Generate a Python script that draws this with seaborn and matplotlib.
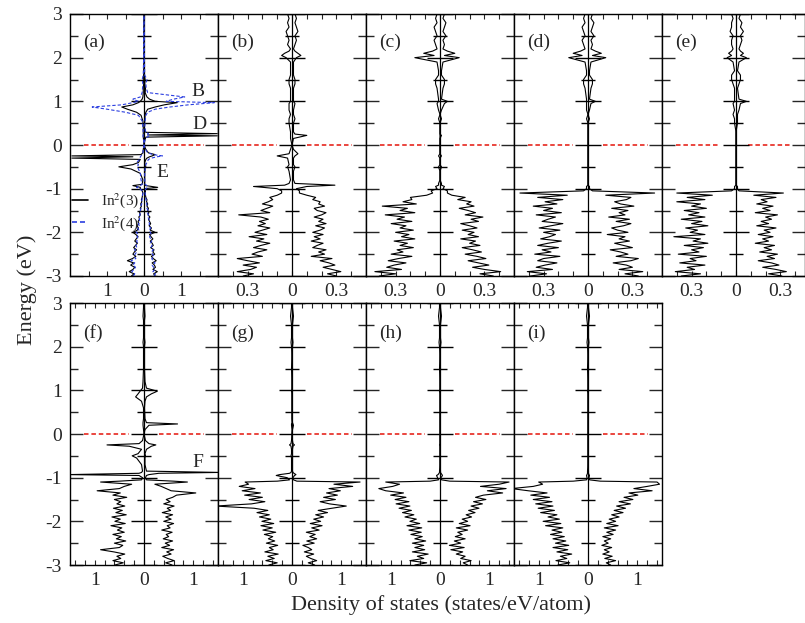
import numpy as np
import matplotlib
matplotlib.use('Agg')
import matplotlib.pyplot as plt
from matplotlib.lines import Line2D
import seaborn as sns

sns.set_theme(style='ticks')
plt.rcParams['font.family'] = ['Liberation Serif', 'DejaVu Serif']
plt.rcParams['mathtext.fontset'] = 'stix'
plt.rcParams['axes.unicode_minus'] = False

# Energy sampling of the valence band part (eV)
vb_energy = np.linspace(-3.0, -1.1, 39)

# Valence band DOS (spin up / spin down magnitudes), one value per vb_energy
a_up3 = [0.30,0.26,0.36,0.24,0.31,0.28,0.22,0.33,0.25,0.20,0.29,0.24,0.27,0.18,0.25,0.22,0.17,0.24,0.19,0.15,
         0.30,0.17,0.20,0.14,0.18,0.15,0.12,0.16,0.11,0.13,0.10,0.12,0.08,0.10,0.07,0.08,0.05,0.04,0.03]
a_dn3 = [0.34,0.27,0.40,0.30,0.25,0.36,0.28,0.45,0.31,0.22,0.30,0.26,0.20,0.28,0.23,0.18,0.25,0.21,0.16,0.22,
         0.30,0.18,0.15,0.19,0.14,0.16,0.12,0.14,0.10,0.12,0.09,0.10,0.07,0.09,0.06,0.07,0.05,0.04,0.03]
a_up4 = [0.27,0.31,0.24,0.29,0.26,0.22,0.30,0.24,0.21,0.27,0.23,0.20,0.25,0.19,0.22,0.17,0.21,0.18,0.15,0.20,
         0.17,0.14,0.18,0.13,0.15,0.12,0.14,0.10,0.12,0.09,0.11,0.08,0.09,0.07,0.08,0.05,0.05,0.04,0.03]
a_dn4 = [0.29,0.25,0.33,0.27,0.23,0.30,0.25,0.35,0.22,0.27,0.24,0.20,0.26,0.19,0.22,0.17,0.20,0.16,0.19,0.15,
         0.21,0.14,0.17,0.13,0.15,0.11,0.13,0.10,0.12,0.09,0.10,0.08,0.09,0.06,0.07,0.05,0.05,0.04,0.03]
b_up = [0.30,0.24,0.33,0.27,0.21,0.29,0.25,0.19,0.27,0.13,0.22,0.18,0.23,0.14,0.17,0.21,0.13,0.19,0.15,0.21,
        0.14,0.19,0.22,0.16,0.23,0.18,0.21,0.15,0.20,0.23,0.17,0.15,0.22,0.18,0.19,0.14,0.16,0.10,0.05]
b_dn = [0.33,0.26,0.37,0.28,0.24,0.33,0.22,0.30,0.37,0.20,0.27,0.23,0.17,0.26,0.21,0.15,0.24,0.19,0.29,0.17,
        0.25,0.20,0.15,0.23,0.18,0.22,0.16,0.21,0.36,0.15,0.21,0.17,0.13,0.20,0.16,0.13,0.15,0.10,0.07]
c_up = [0.36,0.27,0.41,0.30,0.22,0.33,0.26,0.19,0.31,0.25,0.17,0.28,0.22,0.15,0.27,0.20,0.24,0.14,0.26,0.19,
        0.23,0.15,0.25,0.20,0.14,0.26,0.21,0.29,0.17,0.24,0.19,0.13,0.23,0.18,0.21,0.12,0.17,0.08,0.05]
c_dn = [0.41,0.30,0.44,0.26,0.36,0.31,0.23,0.35,0.28,0.19,0.33,0.25,0.29,0.18,0.27,0.22,0.31,0.17,0.26,0.21,
        0.30,0.18,0.27,0.23,0.33,0.19,0.29,0.24,0.37,0.17,0.27,0.22,0.39,0.16,0.25,0.19,0.20,0.09,0.05]
d_up = [0.34,0.25,0.37,0.21,0.30,0.26,0.17,0.29,0.34,0.19,0.27,0.22,0.15,0.30,0.24,0.18,0.28,0.21,0.25,0.13,
        0.27,0.20,0.16,0.24,0.29,0.19,0.28,0.14,0.25,0.21,0.27,0.16,0.31,0.22,0.18,0.26,0.29,0.12,0.45]
d_dn = [0.39,0.28,0.41,0.24,0.35,0.29,0.21,0.34,0.30,0.19,0.36,0.25,0.31,0.20,0.34,0.27,0.18,0.32,0.26,0.22,
        0.30,0.19,0.33,0.25,0.17,0.31,0.27,0.22,0.35,0.18,0.30,0.24,0.37,0.21,0.29,0.17,0.34,0.14,0.46]
e_up = [0.31,0.22,0.34,0.27,0.18,0.29,0.24,0.15,0.26,0.21,0.28,0.16,0.24,0.19,0.26,0.13,0.22,0.18,0.25,0.15,
        0.23,0.19,0.27,0.14,0.22,0.17,0.24,0.20,0.28,0.13,0.23,0.18,0.25,0.14,0.21,0.17,0.27,0.12,0.32]
e_dn = [0.37,0.24,0.41,0.28,0.33,0.21,0.38,0.27,0.31,0.20,0.39,0.25,0.30,0.22,0.35,0.19,0.29,0.24,0.42,0.21,
        0.31,0.26,0.34,0.19,0.30,0.23,0.37,0.21,0.32,0.25,0.35,0.20,0.30,0.24,0.40,0.21,0.33,0.16,0.40]
f_up = [0.57,0.44,0.61,0.48,0.38,0.55,0.46,0.60,0.36,0.52,0.43,0.58,0.39,0.50,0.45,0.57,0.36,0.53,0.47,0.60,
        0.40,0.55,0.44,0.58,0.37,0.54,0.47,0.61,0.40,0.53,0.45,0.58,0.66,1.05,0.55,0.45,0.35,0.22,0.88]
f_dn = [0.59,0.42,0.63,0.47,0.55,0.39,0.61,0.88,0.50,0.43,0.60,0.37,0.56,0.46,0.63,0.40,0.54,0.45,0.67,0.38,
        0.59,0.48,0.65,0.36,0.57,0.44,0.62,0.39,0.55,0.47,0.60,0.35,0.63,0.48,0.95,0.50,0.40,0.25,0.88]
g_up = [0.46,0.33,0.50,0.38,0.29,0.44,0.25,0.40,0.33,0.22,0.45,0.30,0.50,0.36,0.47,0.29,0.55,0.40,0.61,0.37,
        0.58,0.44,0.64,0.48,0.72,0.53,0.81,1.10,0.76,0.57,0.88,0.64,0.92,0.70,0.98,0.75,1.23,0.85,1.38]
g_dn = [0.47,0.30,0.53,0.36,0.49,0.28,0.55,0.38,0.46,0.29,0.52,0.35,0.48,0.39,0.56,0.33,0.59,0.40,0.63,0.37,
        0.61,0.43,0.66,0.46,0.71,0.49,0.77,1.55,0.82,0.55,0.87,0.60,0.96,0.64,1.01,0.75,1.07,0.88,0.95]
h_up = [0.56,0.47,0.63,0.42,0.51,0.33,0.46,0.22,0.49,0.19,0.42,0.29,0.51,0.31,0.45,0.36,0.56,0.33,0.61,0.39,
        0.56,0.45,0.64,0.53,0.71,0.58,0.79,0.63,0.86,0.68,0.93,0.72,0.88,1.27,0.96,1.34,0.82,1.20,1.40]
h_dn = [0.51,0.27,0.61,0.33,0.46,0.24,0.56,0.31,0.51,0.33,0.56,0.29,0.51,0.36,0.59,0.38,0.63,0.37,0.67,0.41,
        0.61,0.48,0.71,0.53,0.76,0.58,0.83,0.61,0.89,0.63,0.91,0.69,1.00,0.74,1.10,1.24,0.96,0.82,1.10]
i_up = [0.46,0.37,0.56,0.34,0.49,0.30,0.43,0.33,0.48,0.28,0.41,0.33,0.46,0.30,0.51,0.38,0.56,0.33,0.61,0.38,
        0.56,0.43,0.63,0.48,0.71,0.53,0.76,0.58,0.86,0.63,0.91,0.73,1.01,0.83,1.30,0.93,1.20,1.45,1.40]
i_dn = [0.61,0.37,0.65,0.43,0.56,0.33,0.63,0.41,0.71,0.39,0.66,0.45,0.71,0.48,0.76,0.53,0.73,0.51,0.86,0.55,
        0.91,0.58,0.81,0.63,0.96,0.68,1.01,0.71,1.06,0.73,1.11,0.78,1.16,0.83,1.21,1.55,1.11,0.92,1.00]

# Gap and conduction band part: panel (a)
a_gap_e = [-1.05,-1.00,-0.97,-0.93,-0.90,-0.80,-0.65,-0.55,-0.50,-0.45,-0.40,-0.33,-0.30,-0.27,-0.25,-0.22,
           -0.18,-0.10,0.00,0.10,0.18,0.21,0.23,0.26,0.29,0.40,0.55,0.68,0.75,0.82,0.87,0.92,0.97,1.00,
           1.05,1.10,1.20,1.30,1.40,1.50,1.60,2.00,2.50,3.00]
a_up3_gap = [0.04,0.02,0.37,0.05,0.02,0.02,0.02,0.03,0.05,0.03,0.02,0.05,0.08,0.15,0.22,0.30,0.12,0.05,0.00,0.02,
             0.05,1.98,0.10,1.98,0.05,0.01,0.02,0.03,0.05,0.10,0.30,0.55,0.90,0.30,0.15,0.08,0.03,0.04,0.02,0.03,
             0.01,0.00,0.00,0.00]
a_dn3_gap = [0.05,0.10,0.10,0.30,0.05,0.03,0.10,0.35,0.68,0.30,0.15,0.10,1.95,0.30,1.95,0.08,0.03,0.02,0.00,0.01,
             0.02,0.02,0.02,0.02,0.02,0.02,0.03,0.08,0.20,0.45,0.60,0.30,0.15,0.10,0.05,0.03,0.02,0.02,0.01,0.02,
             0.01,0.00,0.00,0.00]
a_up4_gap = [0.03,0.05,0.10,0.08,0.03,0.02,0.02,0.03,0.04,0.05,0.08,0.12,0.20,0.35,0.50,0.25,0.10,0.04,0.00,0.02,
             0.08,0.15,0.10,0.12,0.05,0.02,0.03,0.05,0.10,0.30,0.70,1.20,1.90,0.60,0.80,1.10,0.10,0.06,0.05,0.08,
             0.02,0.01,0.01,0.00]
a_dn4_gap = [0.04,0.12,0.20,0.10,0.05,0.08,0.10,0.15,0.18,0.15,0.20,0.12,0.10,0.10,0.08,0.05,0.03,0.02,0.00,0.01,
             0.02,0.03,0.02,0.03,0.02,0.03,0.05,0.15,0.50,1.00,1.40,0.60,0.30,0.15,0.30,0.10,0.05,0.04,0.03,0.05,
             0.02,0.01,0.01,0.00]

# Gap and conduction band part: panels (b)-(e)
mid_gap_e = [-1.05,-1.00,-0.95,-0.92,-0.88,-0.80,-0.60,-0.50,-0.45,-0.30,-0.25,-0.20,-0.10,0.00,0.15,0.22,0.25,
             0.30,0.50,0.60,0.70,0.80,0.95,1.00,1.05,1.30,1.40,1.50,1.60,1.70,1.90,2.00,2.05,2.10,2.15,2.20,
             2.30,2.40,2.50,2.60,2.70,2.80,2.90,3.00]
b_up_gap = [0.05,0.03,0.10,0.29,0.02,0.01,0.01,0.02,0.01,0.01,0.02,0.04,0.01,0.00,0.01,0.10,0.02,0.01,0.01,0.02,
            0.01,0.01,0.02,0.01,0.01,0.01,0.02,0.02,0.01,0.01,0.01,0.03,0.06,0.04,0.02,0.01,0.02,0.03,0.02,0.04,
            0.03,0.02,0.03,0.02]
b_dn_gap = [0.07,0.10,0.26,0.05,0.02,0.01,0.02,0.03,0.02,0.03,0.10,0.02,0.01,0.00,0.01,0.01,0.01,0.01,0.02,0.02,
            0.01,0.02,0.02,0.01,0.01,0.01,0.02,0.02,0.01,0.01,0.01,0.04,0.07,0.05,0.02,0.01,0.03,0.02,0.03,0.04,
            0.02,0.03,0.02,0.03]
c_up_gap = [0.05,0.02,0.03,0.01,0.01,0.00,0.00,0.01,0.00,0.00,0.01,0.00,0.00,0.00,0.00,0.01,0.00,0.00,0.00,0.01,
            0.00,0.01,0.03,0.05,0.01,0.02,0.03,0.03,0.01,0.01,0.02,0.13,0.03,0.10,0.05,0.02,0.03,0.02,0.04,0.02,
            0.03,0.04,0.02,0.03]
c_dn_gap = [0.06,0.02,0.03,0.01,0.01,0.00,0.00,0.01,0.00,0.00,0.01,0.00,0.00,0.00,0.00,0.00,0.00,0.00,0.00,0.01,
            0.00,0.01,0.02,0.01,0.01,0.02,0.03,0.03,0.01,0.01,0.02,0.17,0.04,0.11,0.05,0.02,0.03,0.04,0.02,0.03,
            0.04,0.02,0.03,0.02]
d_up_gap = [0.03,0.01,0.01,0.00,0.00,0.00,0.00,0.00,0.00,0.00,0.00,0.00,0.00,0.00,0.00,0.00,0.00,0.00,0.00,0.01,
            0.00,0.01,0.02,0.05,0.01,0.02,0.03,0.03,0.01,0.01,0.02,0.12,0.03,0.09,0.05,0.02,0.03,0.02,0.04,0.02,
            0.03,0.04,0.02,0.03]
d_dn_gap = [0.03,0.01,0.01,0.00,0.00,0.00,0.00,0.00,0.00,0.00,0.00,0.00,0.00,0.00,0.00,0.00,0.00,0.00,0.00,0.01,
            0.00,0.01,0.01,0.01,0.01,0.02,0.03,0.03,0.01,0.01,0.02,0.13,0.04,0.10,0.05,0.02,0.03,0.04,0.02,0.03,
            0.04,0.02,0.03,0.02]
e_up_gap = [0.02,0.01,0.01,0.00,0.00,0.00,0.00,0.00,0.00,0.00,0.00,0.00,0.00,0.00,0.00,0.00,0.00,0.00,0.01,0.01,
            0.01,0.02,0.03,0.07,0.02,0.01,0.02,0.03,0.03,0.01,0.02,0.07,0.03,0.05,0.03,0.02,0.03,0.04,0.03,0.05,
            0.03,0.04,0.02,0.03]
e_dn_gap = [0.03,0.01,0.01,0.00,0.00,0.00,0.00,0.00,0.00,0.00,0.00,0.00,0.00,0.00,0.00,0.00,0.00,0.00,0.01,0.01,
            0.02,0.01,0.02,0.01,0.01,0.01,0.02,0.03,0.03,0.01,0.02,0.06,0.03,0.05,0.03,0.02,0.03,0.03,0.02,0.04,
            0.03,0.03,0.02,0.03]

# Gap and conduction band part: panels (f)-(i)
low_gap_e = [-1.08,-1.05,-1.00,-0.95,-0.93,-0.90,-0.88,-0.85,-0.70,-0.55,-0.50,-0.45,-0.35,-0.28,-0.25,-0.22,
             -0.15,0.00,0.10,0.20,0.23,0.26,0.35,0.60,0.75,0.85,0.92,0.98,1.05,1.20,1.50,1.80,2.00,2.10,2.20,
             2.50,2.60,2.70,2.90,3.00]
f_up_gap = [0.60,0.05,0.03,0.05,0.10,0.30,1.55,0.05,0.02,0.02,0.03,0.02,0.05,0.15,0.24,0.10,0.03,0.00,0.02,0.10,
            0.68,0.05,0.02,0.01,0.02,0.05,0.15,0.27,0.05,0.02,0.01,0.01,0.01,0.02,0.01,0.01,0.01,0.02,0.01,0.01]
f_dn_gap = [0.50,0.05,0.03,0.10,1.55,0.10,0.05,0.03,0.05,0.15,0.24,0.12,0.05,0.30,0.75,0.10,0.03,0.00,0.01,0.02,
            0.02,0.02,0.01,0.01,0.05,0.17,0.12,0.08,0.03,0.02,0.01,0.01,0.01,0.02,0.01,0.01,0.01,0.02,0.01,0.01]
g_up_gap = [0.10,0.03,0.02,0.05,0.08,0.04,0.02,0.01,0.01,0.01,0.01,0.01,0.01,0.02,0.05,0.02,0.01,0.00,0.01,0.03,
            0.02,0.01,0.00,0.00,0.00,0.00,0.00,0.01,0.00,0.00,0.01,0.00,0.01,0.02,0.01,0.01,0.02,0.03,0.01,0.01]
g_dn_gap = [0.30,0.05,0.10,0.32,0.25,0.05,0.02,0.01,0.01,0.01,0.02,0.01,0.01,0.02,0.05,0.02,0.01,0.00,0.00,0.01,
            0.01,0.00,0.00,0.00,0.00,0.00,0.00,0.01,0.00,0.00,0.01,0.00,0.01,0.02,0.01,0.01,0.02,0.03,0.01,0.01]
h_up_gap = [0.20,0.03,0.02,0.05,0.04,0.02,0.01,0.01,0.00,0.00,0.00,0.00,0.00,0.00,0.01,0.00,0.00,0.00,0.00,0.00,
            0.00,0.00,0.00,0.00,0.00,0.00,0.00,0.01,0.00,0.00,0.01,0.00,0.01,0.02,0.01,0.01,0.02,0.03,0.01,0.01]
h_dn_gap = [0.20,0.03,0.05,0.07,0.04,0.02,0.01,0.01,0.00,0.00,0.00,0.00,0.00,0.00,0.01,0.00,0.00,0.00,0.00,0.00,
            0.00,0.00,0.00,0.00,0.00,0.00,0.00,0.01,0.00,0.00,0.01,0.00,0.01,0.02,0.01,0.01,0.02,0.03,0.01,0.01]
i_up_gap = [0.25,0.03,0.02,0.03,0.02,0.01,0.01,0.01,0.00,0.00,0.00,0.00,0.00,0.00,0.00,0.00,0.00,0.00,0.00,0.00,
            0.00,0.00,0.00,0.00,0.00,0.00,0.00,0.01,0.00,0.00,0.01,0.00,0.01,0.02,0.01,0.01,0.02,0.03,0.01,0.01]
i_dn_gap = [0.30,0.03,0.02,0.03,0.02,0.01,0.01,0.01,0.00,0.00,0.00,0.00,0.00,0.00,0.00,0.00,0.00,0.00,0.00,0.00,
            0.00,0.00,0.00,0.00,0.00,0.00,0.00,0.01,0.00,0.00,0.01,0.00,0.01,0.02,0.01,0.01,0.02,0.03,0.01,0.01]

panel_labels = ['(a)', '(b)', '(c)', '(d)', '(e)', '(f)', '(g)', '(h)', '(i)']
legend_labels = ['In$^2$(3)', 'In$^2$(4)']
peak_labels = ['B', 'D', 'E', 'F']

BLUE = '#2b3ee0'
W, H = 805, 623
fig = plt.figure(figsize=(W / 100, H / 100), dpi=100)


def add_ax(left, top, width):
    return fig.add_axes([left / W, 1 - (top + 262) / H, width / W, 262 / H])


def spin_curve(ax, vb_up, vb_dn, gap_e, gap_up, gap_dn, color='black', ls='-'):
    energy = np.concatenate([vb_energy, gap_e])
    up = np.concatenate([vb_up, gap_up])
    dn = -np.concatenate([vb_dn, gap_dn])
    sns.lineplot(x=up, y=energy, sort=False, estimator=None, color=color, lw=0.8,
                 linestyle=ls, ax=ax)
    sns.lineplot(x=dn, y=energy, sort=False, estimator=None, color=color, lw=0.8,
                 linestyle=ls, ax=ax)


def style_ax(ax, xlim, ticks, labelled, show_y):
    ax.set_xlim(xlim)
    ax.set_ylim(-3, 3)
    ax.set_xticks(ticks)
    ax.set_xticklabels(['%g' % abs(t) if round(t, 2) in labelled else '' for t in ticks])
    ax.set_yticks(range(-3, 4))
    ax.set_yticks(np.arange(-2.5, 3, 1.0), minor=True)
    ax.tick_params(axis='x', which='major', direction='in', length=3.5, width=0.8,
                   top=True, bottom=True, labelsize=14, pad=5)
    ax.tick_params(axis='y', which='major', direction='in', length=9.5, width=1,
                   left=True, right=True, labelsize=14, pad=6, labelleft=show_y)
    ax.tick_params(axis='y', which='minor', direction='in', length=5.5, width=1,
                   left=True, right=True)
    for s in ax.spines.values():
        s.set_color('black')
        s.set_linewidth(1)
    ax.set_xlabel('')
    ax.set_ylabel('')
    # Fermi level
    ax.axhline(0, xmin=0.095, xmax=0.40, color='#e8372f', lw=1.3, ls=(0, (2.5, 1.6)), zorder=1)
    ax.axhline(0, xmin=0.60, xmax=0.905, color='#e8372f', lw=1.3, ls=(0, (2.5, 1.6)), zorder=1)
    # zero axis with its own tick marks
    ax.axvline(0, color='black', lw=0.9, zorder=1)
    ax.plot(np.zeros(7), np.arange(-3, 4), ls='none', marker='_', ms=19, mew=1, color='black', zorder=1)
    ax.plot(np.zeros(6), np.arange(-2.5, 3, 1.0), ls='none', marker='_', ms=10, mew=1, color='black', zorder=1)


top_lefts = [70, 218, 366, 514, 662]
low_lefts = [70, 218, 366, 514]

top_data = [
    (b_up, b_dn, b_up_gap, b_dn_gap),
    (c_up, c_dn, c_up_gap, c_dn_gap),
    (d_up, d_dn, d_up_gap, d_dn_gap),
    (e_up, e_dn, e_up_gap, e_dn_gap),
]
low_data = [
    (f_up, f_dn, f_up_gap, f_dn_gap),
    (g_up, g_dn, g_up_gap, g_dn_gap),
    (h_up, h_dn, h_up_gap, h_dn_gap),
    (i_up, i_dn, i_up_gap, i_dn_gap),
]

# panel (a)
ax = add_ax(70, 14, 148)
spin_curve(ax, a_up3, a_dn3, a_gap_e, a_up3_gap, a_dn3_gap)
spin_curve(ax, a_up4, a_dn4, a_gap_e, a_up4_gap, a_dn4_gap, color=BLUE, ls=(0, (3, 1.8)))
style_ax(ax, (-2, 2), np.arange(-1.5, 1.6, 0.5), [-1.0, 0.0, 1.0], True)
handles = [Line2D([], [], color='black', lw=1.2),
           Line2D([], [], color=BLUE, lw=1.2, ls=(0, (3, 1.8)))]
ax.legend(handles, legend_labels, loc='upper left', bbox_to_anchor=(-0.01, 0.335), frameon=False,
          fontsize=11, handlelength=1.1, handletextpad=0.8, labelspacing=0.25,
          borderaxespad=0, borderpad=0.2)
ax.text(0.09, 0.89, panel_labels[0], transform=ax.transAxes, fontsize=14, va='center')
ax.text(1.46, 1.22, peak_labels[0], fontsize=14, ha='center', va='center')
ax.text(1.49, 0.46, peak_labels[1], fontsize=14, ha='center', va='center')
ax.text(0.51, -0.64, peak_labels[2], fontsize=14, ha='center', va='center')

# panels (b)-(e)
mid_ticks = np.round(np.arange(-0.4, 0.45, 0.1), 2)
for k, (vu, vd, gu, gd) in enumerate(top_data):
    width = 148 if k < 3 else 143
    ax = add_ax(top_lefts[k + 1], 14, width)
    spin_curve(ax, vu, vd, mid_gap_e, gu, gd)
    xr = 0.5 if k < 3 else 0.466
    style_ax(ax, (-0.5, xr), mid_ticks, [-0.3, 0.0, 0.3], False)
    ax.text(0.09, 0.89, panel_labels[k + 1], transform=ax.transAxes, fontsize=14, va='center')

# panels (f)-(i)
low_ticks = np.round(np.arange(-1.4, 1.45, 0.2), 2)
for k, (vu, vd, gu, gd) in enumerate(low_data):
    ax = add_ax(low_lefts[k], 303, 148)
    spin_curve(ax, vu, vd, low_gap_e, gu, gd)
    style_ax(ax, (-1.5, 1.5), low_ticks, [-1.0, 0.0, 1.0], k == 0)
    ax.text(0.09, 0.885, panel_labels[k + 5], transform=ax.transAxes, fontsize=14, va='center')
    if k == 0:
        ax.text(1.1, -0.66, peak_labels[3], fontsize=14, ha='center', va='center')

fig.text(27 / W, 1 - 290 / H, 'Energy (eV)', rotation=90, fontsize=16, ha='center', va='center')
fig.text(441 / W, 1 - 605 / H, 'Density of states (states/eV/atom)', fontsize=16,
         ha='center', va='center')

fig.savefig('out.png', dpi=100)
